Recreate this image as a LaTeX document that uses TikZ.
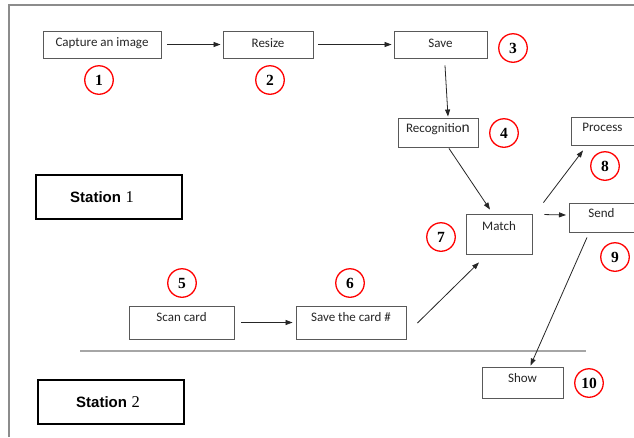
\documentclass[tikz,border=0pt]{standalone}
\usepackage{fontspec}
\usetikzlibrary{arrows.meta}
\newfontfamily\boxfont{Carlito}
\newfontfamily\numfont{Liberation Serif}
\newfontfamily\stfont{Liberation Sans}
\begin{document}
\begin{tikzpicture}[x=1pt,y=-1pt,
  box/.style={draw=black!65, line width=0.9pt, inner sep=0pt, font=\boxfont\fontsize{13}{14}\selectfont,
    text=black!85, text height=9pt, text depth=#1},
  box/.default=3pt,
  num/.style={draw=red, line width=1.3pt, circle, inner sep=0pt, minimum size=28.5pt,
    font=\numfont\bfseries\fontsize{15.5}{16}\selectfont},
  station/.style={draw=black, line width=2.6pt, inner sep=0pt, minimum width=146pt, minimum height=44pt,
    font=\fontsize{15}{16}\selectfont},
  conn/.style={draw=black!85, line width=0.8pt, -{Triangle[length=7pt,width=5pt]}},
  frame/.style={draw=black!45, line width=1.4pt}
]
\useasboundingbox (0,0) rectangle (634,437);
\fill[white] (0,0) rectangle (634,437);
% outer frame
\coordinate (fa) at (9,437);
\coordinate (fb) at (9,5);
\coordinate (fc) at (640,5);
\draw[frame] (fa) -- (fb) -- (fc);
% separator
\coordinate (sa) at (80,351);
\coordinate (sb) at (586,351);
\draw[black!35, line width=1.1pt] (sa) -- (sb);

% boxes
\node[box=6pt, minimum width=118pt, minimum height=27pt] (cap) at (102,44.5) {Capture an image};
\node[box=3pt, minimum width=90pt, minimum height=27pt] (res) at (268,44.5) {Resize};
\node[box=3pt, minimum width=93pt, minimum height=27pt] (save) at (440.5,44.5) {Save};
\node[box=10pt, minimum width=80pt, minimum height=29pt] (rec) at (438,132.5) {Recognitio{\fontsize{15.5}{16}\selectfont n}};
\node[box=9pt, minimum width=70pt, minimum height=28pt, anchor=west] (proc) at (571,131) {\hspace*{-8pt}Process};
\node[box=17pt, minimum width=66pt, minimum height=40pt] (match) at (499,234) {Match};
\node[box=10pt, minimum width=70pt, minimum height=29pt, anchor=west] (send) at (569,217.5) {\hspace*{-6pt}Send};
\node[box=12pt, minimum width=105pt, minimum height=33pt] (scan) at (181.5,322.5) {Scan card};
\node[box=12pt, minimum width=110pt, minimum height=33pt] (sc) at (351,322.5) {Save the card \#};
\node[box=9pt, minimum width=81pt, minimum height=31pt] (show) at (522.5,382.5) {Show};

% station boxes
\node[station] (st1) at (109,197) {\hspace*{-14pt}{\stfont\bfseries Station}\ {\numfont\mdseries\fontsize{16.5}{17}\selectfont 1}};
\node[station] (st2) at (111,402) {\hspace*{-6pt}{\stfont\bfseries Station}\ {\numfont\mdseries\fontsize{16.5}{17}\selectfont 2}};

% numbers
\node[num] (n1) at (99,80) {1};
\node[num] (n2) at (270,80) {2};
\node[num] (n3) at (513,48) {3};
\node[num] (n4) at (504,133) {4};
\node[num] (n5) at (182,283) {5};
\node[num] (n6) at (350,283) {6};
\node[num] (n7) at (441,237) {7};
\node[num] (n8) at (605,166) {8};
\node[num] (n9) at (615,257) {9};
\node[num] (n10) at (589,383) {10};

% connectors
\draw[conn] ([xshift=6pt]cap.east) -- ([xshift=-2pt]res.west);
\draw[conn] ([xshift=5pt]res.east) -- ([xshift=-2pt]save.west);
\draw[conn] ([shift={(4.5,7)}]save.south) -- ([shift={(10,-1)}]rec.north);
\draw[conn] ([shift={(11,1)}]rec.south) -- ([shift={(-9,-4)}]match.north);
\draw[conn] ([shift={(11,-11)}]match.north east) -- ([shift={(12,5)}]proc.south west);
\draw[conn] ([shift={(12,1)}]match.north east) -- ([shift={(-3,-2.5)}]send.west);
\draw[conn] ([shift={(18,5)}]send.south west) -- ([shift={(8,-1)}]show.north);
\draw[conn] ([xshift=7pt]scan.east) -- ([xshift=-3pt]sc.west);
\draw[conn] ([shift={(11,0.5)}]sc.east) -- ([shift={(-20,8)}]match.south);
\end{tikzpicture}
\end{document}
